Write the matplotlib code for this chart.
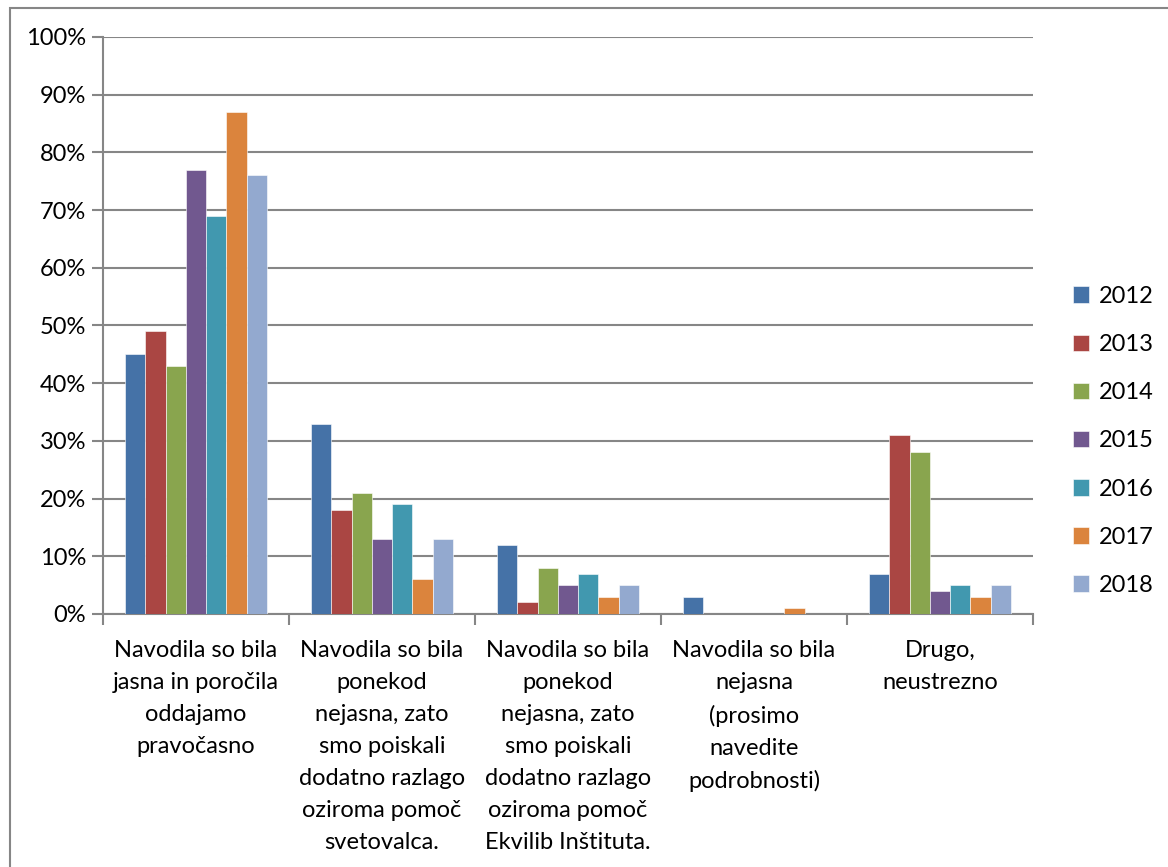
import matplotlib.pyplot as plt
import matplotlib.patches as mpatches
import numpy as np
from matplotlib.ticker import FixedLocator, PercentFormatter

categories = [
    "Navodila so bila\njasna in poročila\noddajamo\npravočasno",
    "Navodila so bila\nponekod\nnejasna, zato\nsmo poiskali\ndodatno razlago\noziroma pomoč\nsvetovalca.",
    "Navodila so bila\nponekod\nnejasna, zato\nsmo poiskali\ndodatno razlago\noziroma pomoč\nEkvilib Inštituta.",
    "Navodila so bila\nnejasna\n(prosimo\nnavedite\npodrobnosti)",
    "Drugo,\nneustrezno",
]
years = ["2012", "2013", "2014", "2015", "2016", "2017", "2018"]
v2012 = [45, 33, 12, 3, 7]
v2013 = [49, 18, 2, 0, 31]
v2014 = [43, 21, 8, 0, 28]
v2015 = [77, 13, 5, 0, 4]
v2016 = [69, 19, 7, 0, 5]
v2017 = [87, 6, 3, 1, 3]
v2018 = [76, 13, 5, 0, 5]
series = [v2012, v2013, v2014, v2015, v2016, v2017, v2018]
colors = ["#4572A7", "#AA4643", "#89A54E", "#71588F", "#4198AF", "#DB843D", "#93A9CF"]

plt.rcParams['font.family'] = ['Lato', 'DejaVu Sans']
fs = 17
grey = "#868686"

fig = plt.figure(figsize=(11.68, 8.67), dpi=100)
ax = fig.add_axes([103/1168, 253/867, 930/1168, 577/867])

x = np.arange(len(categories))
group = 0.765
w = group / len(series)
for i, (vals, c, yr) in enumerate(zip(series, colors, years)):
    ax.bar(x - group/2 + w*(i + 0.5), vals, w, color=c, label=yr,
           edgecolor='white', linewidth=0.4, zorder=3)

ax.set_xlim(-0.5, len(categories) - 0.5)
ax.set_ylim(0, 100)
ax.yaxis.set_major_locator(FixedLocator(np.arange(0, 101, 10)))
ax.yaxis.set_major_formatter(PercentFormatter(decimals=0))
ax.grid(axis='y', color=grey, linewidth=1.5, zorder=0)

ax.set_xticks(x)
ax.set_xticklabels(categories, fontsize=fs, linespacing=1.64)
ax.set_xticks(np.arange(-0.5, len(categories)), minor=True)
ax.tick_params(axis='x', which='major', length=0, pad=19)
ax.tick_params(axis='x', which='minor', length=8, width=1.5, color=grey, direction='out')
ax.tick_params(axis='y', length=8, width=1.5, color=grey, labelsize=fs, pad=4)

for s in ['top', 'right']:
    ax.spines[s].set_visible(False)
for s in ['left', 'bottom']:
    ax.spines[s].set_color(grey)
    ax.spines[s].set_linewidth(1.5)

leg = ax.legend(loc='center left', bbox_to_anchor=(1.02, 0.30), frameon=False,
                fontsize=fs, handlelength=0.7, handleheight=0.7,
                handletextpad=0.4, labelspacing=1.15)

# outer chart border
fig.patches.append(mpatches.Rectangle((10/1168, -0.05), 1.2, (867 - 8)/867 + 0.05,
                                      transform=fig.transFigure, fill=False,
                                      edgecolor=grey, linewidth=1.5))

fig.savefig("out.png", dpi=100)
